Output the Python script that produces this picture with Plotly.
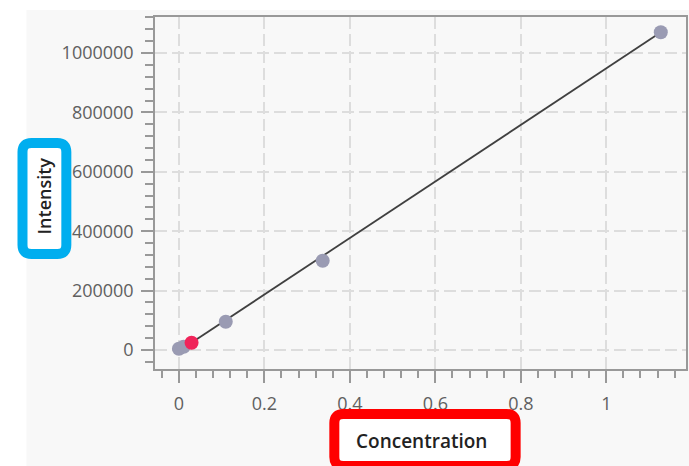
import plotly.graph_objects as go

# ---- data ----
gray_x = [0.0, 0.011, 0.1096, 0.3364, 1.1275]
gray_y = [4000, 11000, 95300, 300700, 1069700]
red_x = [0.0296]
red_y = [24600]
fit_x = [0.0, 1.1275]
fit_y = [-3600, 1069700]
x_ticks = [0, 0.2, 0.4, 0.6, 0.8, 1.0]
y_ticks = [0, 200000, 400000, 600000, 800000, 1000000]
x_title = "Concentration"
y_title = "Intensity"

W, H = 689, 466
L, R, T, B = 155, 688, 17, 369


def px(x):
    return (x - L) / (R - L)


def py(y):
    return (B - y) / (B - T)


def rounded(x0, y0, x1, y1, r):
    X0, X1 = px(x0), px(x1)
    Y0, Y1 = py(y0), py(y1)
    rx = r / (R - L)
    ry = r / (B - T)
    return (f"M {X0+rx},{Y0} L {X1-rx},{Y0} Q {X1},{Y0} {X1},{Y0-ry} "
            f"L {X1},{Y1+ry} Q {X1},{Y1} {X1-rx},{Y1} L {X0+rx},{Y1} "
            f"Q {X0},{Y1} {X0},{Y1+ry} L {X0},{Y0-ry} Q {X0},{Y0} {X0+rx},{Y0} Z")


fig = go.Figure()
fig.add_trace(go.Scatter(x=fit_x, y=fit_y, mode="lines",
                         line=dict(color="#404040", width=1.8),
                         hoverinfo="skip", showlegend=False))
fig.add_trace(go.Scatter(x=gray_x, y=gray_y, mode="markers",
                         marker=dict(color="#9a9bb3", size=14),
                         showlegend=False))
fig.add_trace(go.Scatter(x=red_x, y=red_y, mode="markers",
                         marker=dict(color="#f0245a", size=14),
                         showlegend=False))

axis_common = dict(
    showline=True, linecolor="#999999", linewidth=1.5, mirror=True,
    ticks="outside", ticklen=12, tickwidth=1.5, tickcolor="#999999",
    showgrid=True, gridcolor="#dddddd", gridwidth=1.5, griddash="12px,5px",
    zeroline=False,
    tickfont=dict(family="Open Sans", size=18, color="#606060"),
)

fig.update_xaxes(
    range=[(L - 179) / 429, (R - 179) / 429],
    tickvals=x_ticks, ticktext=["0", "0.2", "0.4", "0.6", "0.8", "1"],
    minor=dict(dtick=0.04, tick0=0, ticks="outside", ticklen=7,
               tickwidth=1.5, tickcolor="#999999", showgrid=False),
    ticklabelstandoff=6,
    **axis_common,
)
fig.update_yaxes(
    range=[(350 - B) / 0.000297, (350 - T) / 0.000297],
    tickvals=y_ticks, ticktext=[str(v) for v in y_ticks],
    minor=dict(dtick=40000, tick0=0, ticks="outside", ticklen=8,
               tickwidth=1.5, tickcolor="#999999", showgrid=False),
    ticklabelstandoff=4,
    **axis_common,
)

shapes = [
    dict(type="rect", xref="paper", yref="paper",
         x0=px(26), x1=px(700), y0=py(10), y1=py(480),
         fillcolor="#f8f8f8", line=dict(width=0), layer="below"),
    dict(type="path", xref="paper", yref="paper",
         path=rounded(22, 143, 66, 254, 9),
         fillcolor="white", line=dict(color="#00aeef", width=10)),
    dict(type="path", xref="paper", yref="paper",
         path=rounded(335, 414, 517, 466, 9),
         fillcolor="white", line=dict(color="#ff0000", width=10)),
]

annotations = [
    dict(text=y_title, xref="paper", yref="paper", x=px(44), y=py(196),
         xanchor="center", yanchor="middle", textangle=-90, showarrow=False,
         font=dict(family="Open Sans", size=18, color="#222222", weight=600)),
    dict(text=x_title, xref="paper", yref="paper", x=px(423), y=py(441),
         xanchor="center", yanchor="middle", showarrow=False,
         font=dict(family="Open Sans", size=19, color="#222222", weight=600)),
]

fig.update_layout(
    width=W, height=H,
    margin=dict(l=L, r=W - R, t=T, b=H - B),
    paper_bgcolor="white", plot_bgcolor="white",
    shapes=shapes, annotations=annotations,
    showlegend=False,
)

fig.write_html("out.html")
